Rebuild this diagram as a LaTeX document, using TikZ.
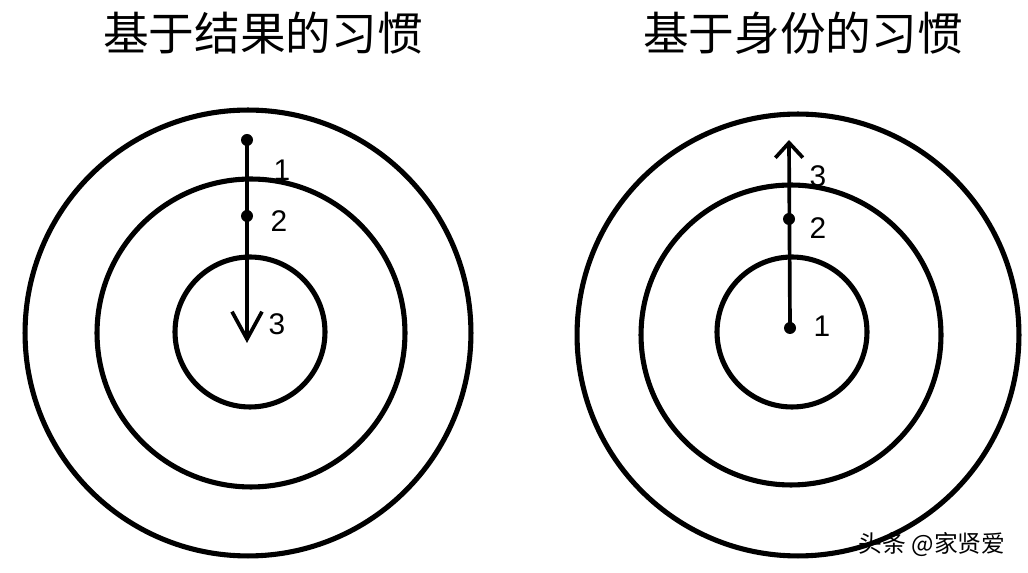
\documentclass[tikz,border=0pt]{standalone}
\usepackage{fontspec}
\setsansfont{Liberation Sans}
\newfontfamily\cjk{Noto Sans CJK SC}
\usetikzlibrary{arrows.meta}

\begin{document}
\begin{tikzpicture}[
    x=0.02cm, y=-0.02cm,
    every node/.style={font=\sffamily},
    ring/.style={draw, circle, line width=2.9pt, inner sep=0pt},
    dot/.style={circle, fill, inner sep=0pt, minimum size=0.24cm},
    arr/.style={line width=2.1pt},
    num/.style={font=\sffamily\fontsize{17}{17}\selectfont},
    heading/.style={font=\cjk\fontsize{26}{26}\selectfont},
    wmtext/.style={font=\cjk\fontsize{13.5}{13.5}\selectfont}
]
\useasboundingbox (0,0) rectangle (1028,573);

% headings
\node[heading] (tl) at (263,33) {基于结果的习惯};
\node[heading] (tr) at (803,33) {基于身份的习惯};

% left target
\node[ring, minimum size=8.92cm] (lo) at (248,333) {};
\node[ring, minimum size=6.16cm] (lm) at (251,333) {};
\node[ring, minimum size=3.0cm] (li) at (250,332) {};
\node[dot] (l1) at (247,140) {};
\node[dot] (l2) at (247,216) {};
\coordinate (l3) at (247,343);
\draw[arr, -{Straight Barb[length=5.5mm, width=6mm]}] (l1.center) -- (l3);
\node[num] (ln1) at (282,170) {1};
\node[num] (ln2) at (279,221) {2};
\node[num] (ln3) at (277,324) {3};

% right target
\node[ring, minimum size=8.84cm] (ro) at (798,335) {};
\node[ring, minimum size=6.0cm] (rm) at (791,335) {};
\node[ring, minimum size=3.0cm] (ri) at (792,332) {};
\node[dot] (r1) at (790,328) {};
\node[dot] (r2) at (789,219) {};
\coordinate (r3) at (789,140);
\draw[arr, -{Straight Barb[length=3mm, width=5.5mm]}] (r1.center) -- (r3);
\node[num] (rn1) at (822,326) {1};
\node[num] (rn2) at (818,228) {2};
\node[num] (rn3) at (818,176) {3};

% watermark
\node[wmtext] (wm) at (932,545) {头条 @家贤爱};
\end{tikzpicture}
\end{document}
